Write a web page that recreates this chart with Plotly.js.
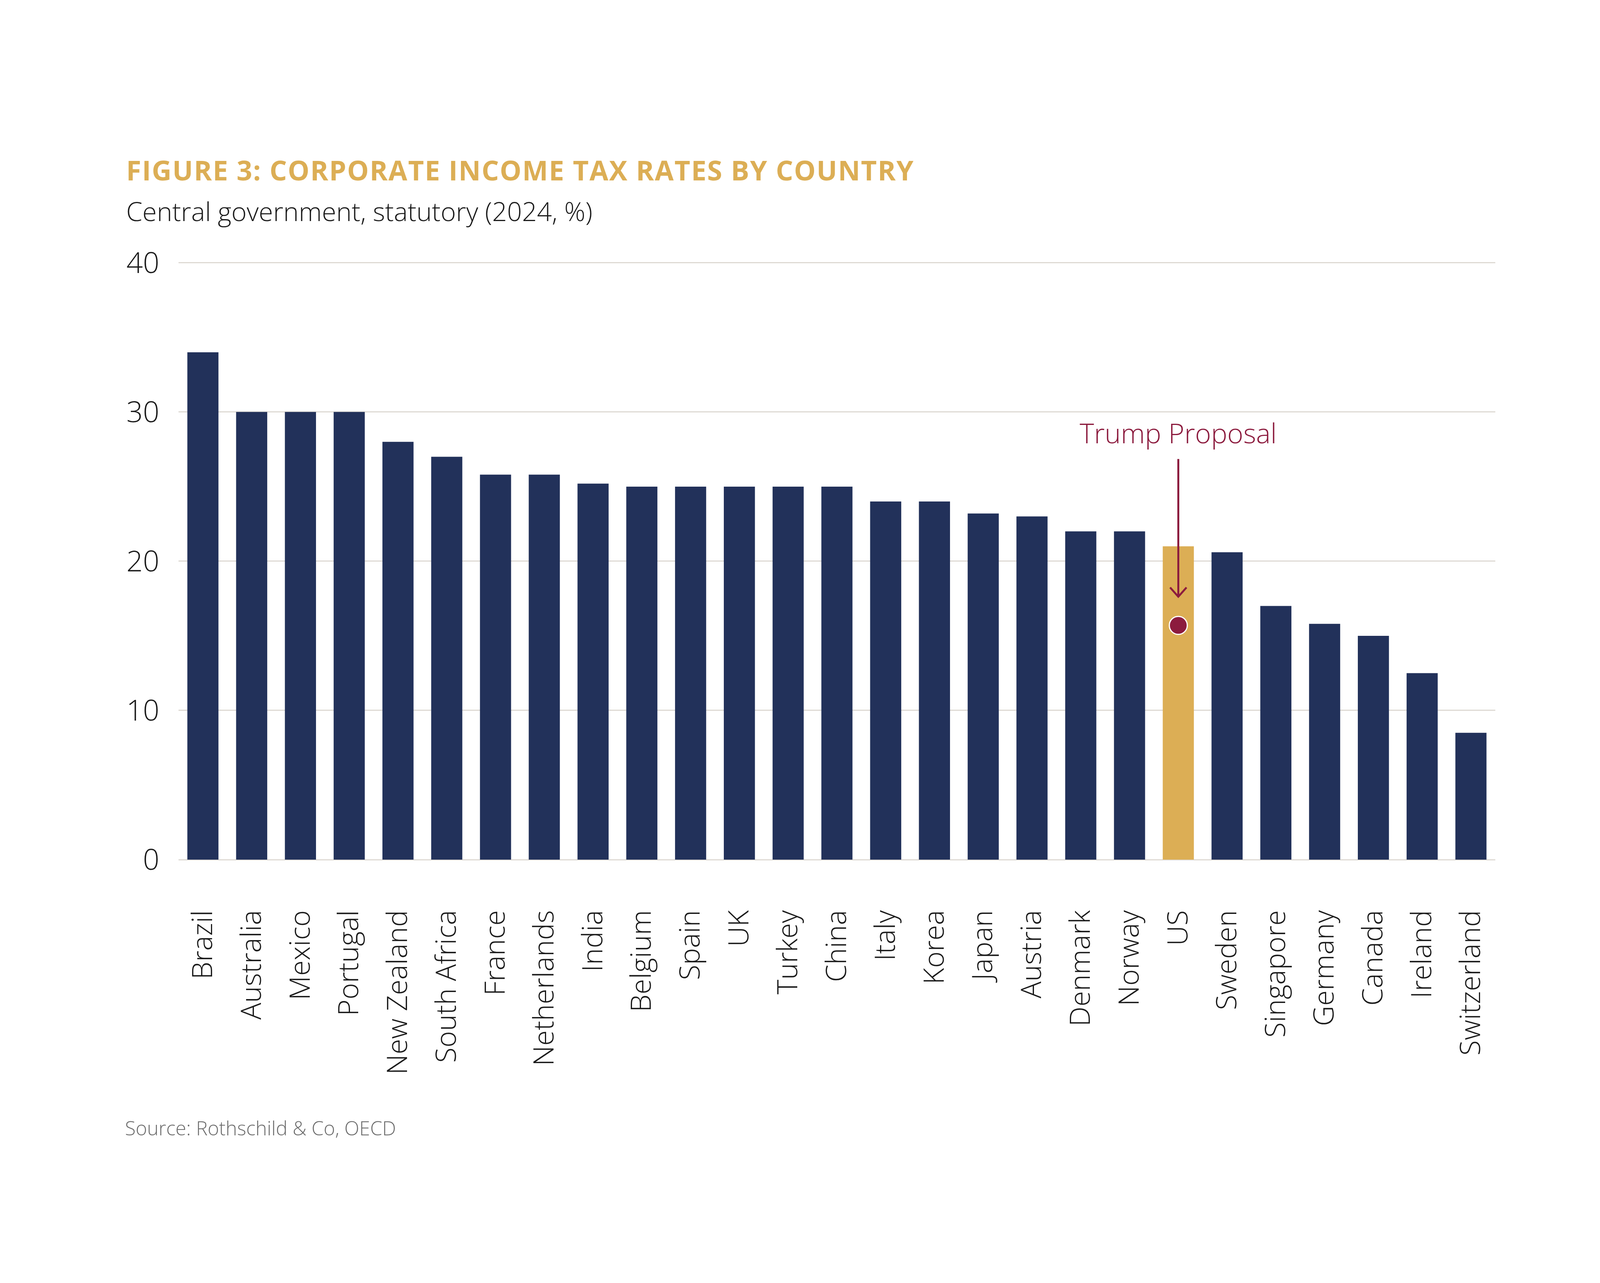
<!DOCTYPE html>
<html>
<head>
<meta charset="utf-8">
<script src="https://cdn.plot.ly/plotly-3.0.1.min.js"></script>
<style>
  html, body { margin: 0; padding: 0; background: #ffffff; }
  #chart { width: 4224px; height: 3285px; }
</style>
</head>
<body>
<div id="chart"></div>
<script>
// ---- data ----
const countries = ["Brazil", "Australia", "Mexico", "Portugal", "New Zealand", "South Africa",
  "France", "Netherlands", "India", "Belgium", "Spain", "UK", "Turkey", "China", "Italy",
  "Korea", "Japan", "Austria", "Denmark", "Norway", "US", "Sweden", "Singapore", "Germany",
  "Canada", "Ireland", "Switzerland"];
const taxRates = [34, 30, 30, 30, 28, 27, 25.8, 25.8, 25.2, 25, 25, 25, 25, 25, 24,
  24, 23.2, 23, 22, 22, 21, 20.6, 17, 15.8, 15, 12.5, 8.5];
const highlightCountry = "US";
const proposalCountry = ["US"];
const proposalRate = [15.7];
const yTickValues = [0, 10, 20, 30, 40];
const yTickLabels = ["0", "10", "20", "30", "40"];

// ---- styles ----
const NAVY = "#22315a";
const GOLD = "#dcae55";
const MAROON = "#8c1b3e";
const GRID = "#dedad4";
const FONT = "Open Sans";

const barColors = countries.map(c => c === highlightCountry ? GOLD : NAVY);
const hlIndex = countries.indexOf(highlightCountry);

const traces = [
  {
    type: "bar",
    x: countries,
    y: taxRates,
    width: 0.638,
    marker: { color: barColors, line: { width: 0 } },
    hoverinfo: "skip",
    showlegend: false
  },
  {
    type: "scatter",
    mode: "markers",
    x: proposalCountry,
    y: proposalRate,
    marker: { color: MAROON, size: 46, line: { color: "#ffffff", width: 3 } },
    hoverinfo: "skip",
    showlegend: false
  }
];

const W = 4224, H = 3285;
const L = 457, R = 3828, T = 669, B = 2201;
const YMAX = 40.1;

// arrow geometry (annotation layout, in axis units / pixels)
const arrowTail = 26.85, arrowTip = 17.62, headRise = 0.62, headHalf = 21;

const layout = {
  width: W,
  height: H,
  margin: { l: L, r: W - R, t: T, b: H - B, pad: 0 },
  paper_bgcolor: "#ffffff",
  plot_bgcolor: "#ffffff",
  showlegend: false,
  xaxis: {
    type: "category",
    range: [-0.5, countries.length - 0.5],
    showgrid: false,
    zeroline: false,
    showline: false,
    ticks: "",
    tickangle: -90,
    ticklabelstandoff: 114,
    tickfont: { family: FONT, size: 72, color: "#1a1a1a", weight: 300 },
    fixedrange: true
  },
  yaxis: {
    range: [0, YMAX],
    tickvals: yTickValues,
    ticktext: yTickLabels,
    showgrid: true,
    gridcolor: GRID,
    gridwidth: 3,
    zeroline: true,
    zerolinecolor: GRID,
    zerolinewidth: 3,
    showline: false,
    ticks: "",
    ticklabelstandoff: 48,
    tickfont: { family: FONT, size: 74, color: "#1a1a1a", weight: 300 },
    fixedrange: true
  },
  shapes: [
    {
      type: "line", xref: "x", yref: "y", xsizemode: "pixel", xanchor: hlIndex,
      x0: 0, x1: 0, y0: arrowTail, y1: arrowTip,
      line: { color: MAROON, width: 5 }
    },
    {
      type: "path", xref: "x", yref: "y", xsizemode: "pixel", xanchor: hlIndex,
      path: "M" + (-headHalf) + "," + (arrowTip + headRise) + " L0," + arrowTip + " L" + headHalf + "," + (arrowTip + headRise),
      line: { color: MAROON, width: 5 }
    }
  ],
  annotations: [
    {
      xref: "paper", yref: "paper",
      x: (321 - L) / (R - L), y: (B - 435) / (B - T),
      xanchor: "left", yanchor: "middle",
      text: "<span style=\"letter-spacing:2px\">FIGURE 3: CORPORATE INCOME TAX RATES BY COUNTRY</span>",
      showarrow: false,
      font: { family: FONT, size: 70, color: GOLD, weight: 700 }
    },
    {
      xref: "paper", yref: "paper",
      x: (321 - L) / (R - L), y: (B - 540) / (B - T),
      xanchor: "left", yanchor: "middle",
      text: "Central government, statutory (2024, %)",
      showarrow: false,
      font: { family: FONT, size: 67, color: "#1a1a1a", weight: 300 }
    },
    {
      xref: "paper", yref: "paper",
      x: (318 - L) / (R - L), y: (B - 2888) / (B - T),
      xanchor: "left", yanchor: "middle",
      text: "Source: Rothschild &amp; Co, OECD",
      showarrow: false,
      font: { family: FONT, size: 50, color: "#6b6b6b", weight: 300 }
    },
    {
      xref: "x", yref: "y",
      x: highlightCountry, y: 27.3,
      xanchor: "center", yanchor: "bottom",
      text: "Trump Proposal",
      showarrow: false,
      font: { family: FONT, size: 70, color: MAROON, weight: 300 }
    }
  ]
};

Plotly.newPlot("chart", traces, layout, { staticPlot: true, displayModeBar: false });
</script>
</body>
</html>
